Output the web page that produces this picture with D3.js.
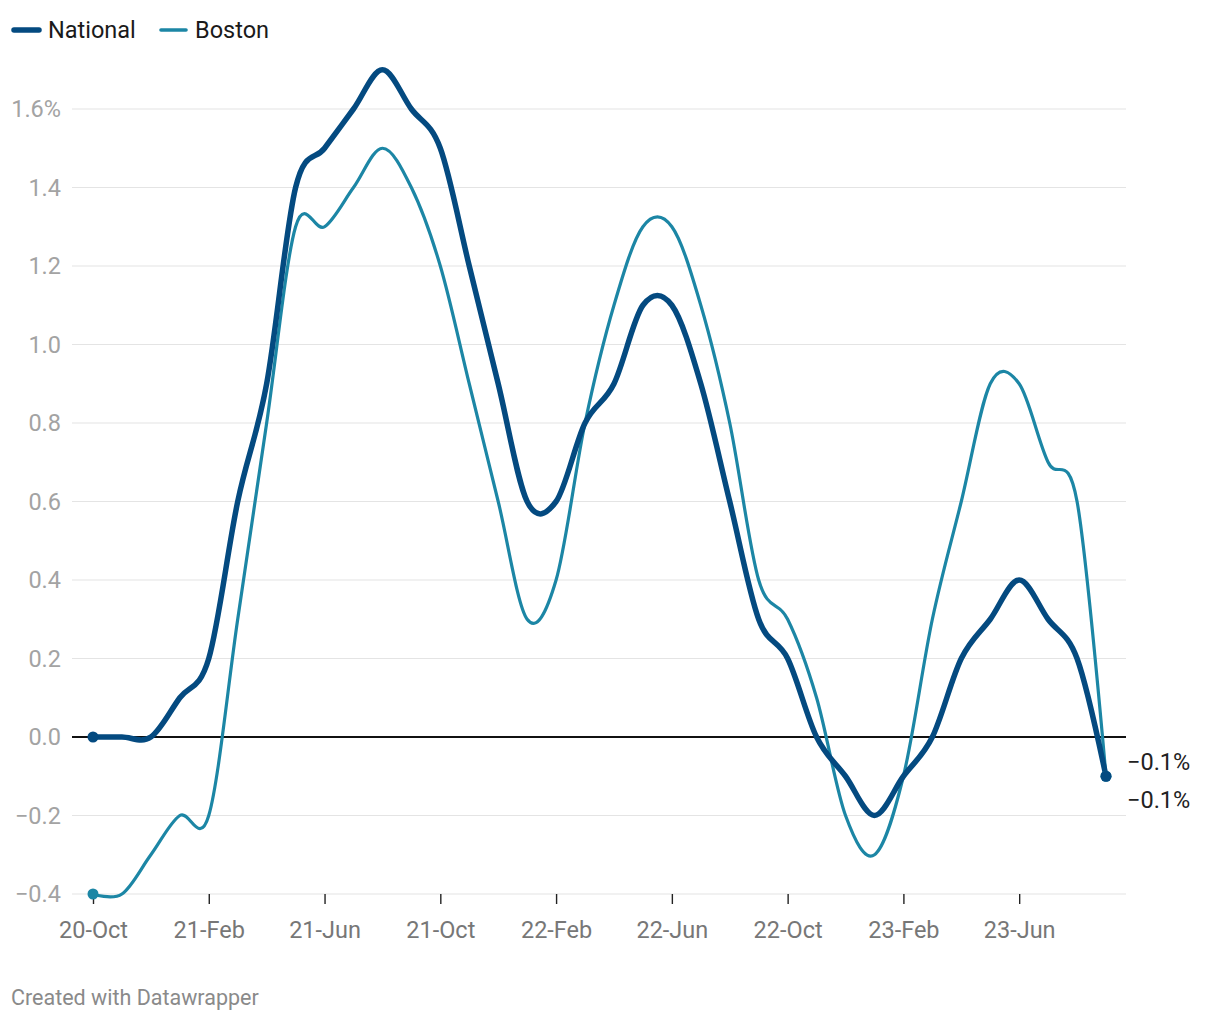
<!DOCTYPE html>
<html>
<head>
<meta charset="utf-8">
<script src="https://cdn.jsdelivr.net/npm/d3@7"></script>
<style>
  body { margin: 0; background: #fff; }
  svg { font-family: Roboto, "Noto Sans", sans-serif; }
</style>
</head>
<body>
<svg></svg>
<script>
let months = [
    "2020-10", "2020-11", "2020-12", "2021-01", "2021-02", "2021-03", "2021-04", "2021-05", "2021-06",
    "2021-07", "2021-08", "2021-09", "2021-10", "2021-11", "2021-12", "2022-01", "2022-02", "2022-03",
    "2022-04", "2022-05", "2022-06", "2022-07", "2022-08", "2022-09", "2022-10", "2022-11", "2022-12",
    "2023-01", "2023-02", "2023-03", "2023-04", "2023-05", "2023-06", "2023-07", "2023-08", "2023-09"
];
let national = [
    0.0, 0.0, 0.0, 0.1, 0.2, 0.6, 0.9, 1.4, 1.5,
    1.6, 1.7, 1.6, 1.5, 1.2, 0.9, 0.6, 0.6, 0.8,
    0.9, 1.1, 1.1, 0.9, 0.6, 0.3, 0.2, 0.0, -0.1,
    -0.2, -0.1, 0.0, 0.2, 0.3, 0.4, 0.3, 0.2, -0.1
];
let boston = [
    -0.4, -0.4, -0.3, -0.2, -0.2, 0.3, 0.8, 1.3, 1.3,
    1.4, 1.5, 1.4, 1.2, 0.9, 0.6, 0.3, 0.4, 0.8,
    1.1, 1.3, 1.3, 1.1, 0.8, 0.4, 0.3, 0.1, -0.2,
    -0.3, -0.1, 0.3, 0.6, 0.9, 0.9, 0.7, 0.6, -0.1
];
let tickMonths = ["2020-10", "2021-02", "2021-06", "2021-10", "2022-02", "2022-06", "2022-10", "2023-02", "2023-06"];
let tickLabels = ["20-Oct", "21-Feb", "21-Jun", "21-Oct", "22-Feb", "22-Jun", "22-Oct", "23-Feb", "23-Jun"];
let yTicks = [-0.4, -0.2, 0, 0.2, 0.4, 0.6, 0.8, 1.0, 1.2, 1.4, 1.6];

let series = [
    { name: "Boston", values: boston, color: "#1c86a5", width: 3.2 },
    { name: "National", values: national, color: "#044a80", width: 5.5 }
];

let svg = d3.select("svg").attr("width", 1220).attr("height", 1020);

let x = d3.scalePoint().domain(months).range([93, 1106]);
let y = d3.scaleLinear().domain([-0.4, 1.6]).range([894, 109]);

// grid
let grid = svg.append("g");
grid.selectAll("line")
    .data(yTicks.filter((d) => d !== 0))
    .enter()
    .append("line")
    .attr("x1", 72)
    .attr("x2", 1126)
    .attr("y1", (d) => y(d))
    .attr("y2", (d) => y(d))
    .style("stroke", "#e4e4e4")
    .style("stroke-width", 1.2);

// y labels
svg.append("g")
    .selectAll("text")
    .data(yTicks)
    .enter()
    .append("text")
    .attr("x", 61)
    .attr("y", (d) => y(d))
    .attr("dy", "0.35em")
    .attr("text-anchor", "end")
    .style("font-size", "23.5px")
    .style("fill", "#a3a3a3")
    .text((d) => {
        let s = d3.format(".1f")(Math.abs(d));
        if (d < 0) s = "\u2212" + s;
        return d === 1.6 ? s + "%" : s;
    });

// x axis
let xAxis = d3.axisBottom(x)
    .tickValues(tickMonths)
    .tickSize(10)
    .tickPadding(17)
    .tickFormat((d) => tickLabels[tickMonths.indexOf(d)]);

let xg = svg.append("g").attr("transform", "translate(0,894)").call(xAxis);
xg.select(".domain").remove();
xg.selectAll(".tick line").style("stroke", "#222").style("stroke-width", 1.4);
xg.selectAll(".tick text")
    .style("font-size", "23.5px")
    .style("font-family", "Roboto, sans-serif")
    .style("fill", "#777");

// zero line
svg.append("line")
    .attr("x1", 72)
    .attr("x2", 1126)
    .attr("y1", y(0))
    .attr("y2", y(0))
    .style("stroke", "#111")
    .style("stroke-width", 1.8);

let line = d3.line()
    .x((d, i) => x(months[i]))
    .y((d) => y(d))
    .curve(d3.curveCardinal.tension(0));

series.forEach((s) => {
    svg.append("path")
        .attr("d", line(s.values))
        .style("fill", "none")
        .style("stroke", s.color)
        .style("stroke-width", s.width)
        .style("stroke-linejoin", "round")
        .style("stroke-linecap", "round");
});

series.forEach((s) => {
    let last = s.values.length - 1;
    svg.append("circle")
        .attr("cx", x(months[0]))
        .attr("cy", y(s.values[0]))
        .attr("r", 5.5)
        .style("fill", s.color);
    svg.append("circle")
        .attr("cx", x(months[last]))
        .attr("cy", y(s.values[last]))
        .attr("r", 5.5)
        .style("fill", s.color);
});

// end labels
let endLabels = [
    { text: "\u22120.1%", dy: -14 },
    { text: "\u22120.1%", dy: 24 }
];
svg.append("g")
    .selectAll("text")
    .data(endLabels)
    .enter()
    .append("text")
    .attr("x", 1127)
    .attr("y", (d) => y(national[national.length - 1]) + d.dy)
    .attr("dy", "0.35em")
    .style("font-size", "23.5px")
    .style("fill", "#222")
    .text((d) => d.text);

// legend
let legend = [
    { name: "National", color: "#044a80", x: 12, w: 5.5 },
    { name: "Boston", color: "#1c86a5", x: 159, w: 3.6 }
];
let lg = svg.append("g");
legend.forEach((l) => {
    lg.append("line")
        .attr("x1", l.x + 2)
        .attr("x2", l.x + 27)
        .attr("y1", 30)
        .attr("y2", 30)
        .style("stroke", l.color)
        .style("stroke-width", l.w)
        .style("stroke-linecap", "round");
    lg.append("text")
        .attr("x", l.x + 36)
        .attr("y", 30)
        .attr("dy", "0.35em")
        .style("font-size", "23.5px")
        .style("fill", "#1a1a1a")
        .text(l.name);
});

svg.append("text")
    .attr("x", 11)
    .attr("y", 997)
    .attr("dy", "0.35em")
    .style("font-size", "21.5px")
    .style("fill", "#8a8a8a")
    .text("Created with Datawrapper");
</script>
</body>
</html>
